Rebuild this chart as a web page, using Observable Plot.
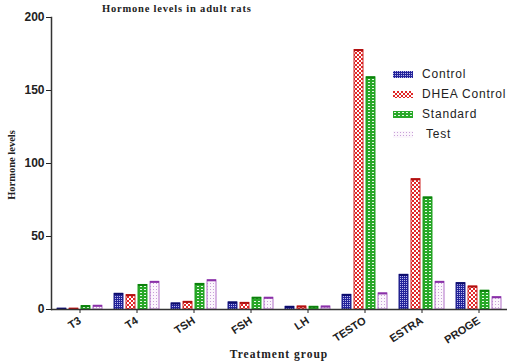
<!DOCTYPE html>
<html><head><meta charset="utf-8">
<script src="https://cdn.jsdelivr.net/npm/d3@7"></script>
<script src="https://cdn.jsdelivr.net/npm/@observablehq/plot@0.6"></script>
<style>
body{margin:0;background:#fff}
#wrap{position:relative;width:528px;height:362px}
#title{position:absolute;left:102px;top:3px;font:bold 10.5px "Liberation Serif";letter-spacing:0.8px;color:#222;white-space:nowrap}
#legend{position:absolute;left:393px;top:64px;font:12px "Liberation Sans";color:#222;letter-spacing:0.8px}
#legend .row{display:flex;align-items:center;height:20px}
#legend svg{margin-right:9px}
</style></head><body>
<div id="wrap"><div id="title">Hormone levels in adult rats</div><div id="legend"></div></div>
<script>
const categories = ["T3","T4","TSH","FSH","LH","TESTO","ESTRA","PROGE"];
const groups = ["Control","DHEA Control","Standard","Test"];
const control = [0.5,10.7,4.1,4.8,1.8,10,23.7,18];
const dheaControl = [0.5,9.8,5.2,4.5,2,177.7,89.2,15.7];
const standard = [2.3,16.8,17.5,8,1.8,159,76.7,12.8];
const test = [2.5,18.9,20,8,2,11,18.9,8.4];
const yTicks = [0,50,100,150,200];
const title = "Hormone levels in adult rats";
const yLabel = "Hormone levels";
const xLabel = "Treatment group";

const series = [control, dheaControl, standard, test];
const data = categories.flatMap((c,i)=>groups.map((g,j)=>({category:c, group:g, value:series[j][i]})));
const strokes = ["#20208a","#d02424","#20a020","#b070c8"];
const caps = ["#0c0c6c","#b01010","#0c800c","#8a30a8"];

const marks = [];
groups.forEach((g,j)=>{
  const sub = data.filter(d=>d.group===g);
  marks.push(Plot.barY(sub,{fx:"category", x:"group", y:"value", fill:`url(#p${j})`, stroke:strokes[j], strokeWidth:1}));
  marks.push(Plot.tickY(sub,{fx:"category", x:"group", y:"value", stroke:caps[j], strokeWidth:2}));
});

const chart = Plot.plot({
  width:528, height:362,
  marginLeft:49, marginRight:19, marginTop:17, marginBottom:53,
  style:{fontFamily:"Liberation Sans", fontSize:"11px", fontWeight:"bold", color:"#222", background:"white"},
  fx:{domain:categories, padding:0},
  x:{domain:groups, paddingInner:0.26, paddingOuter:0.49, axis:null},
  y:{domain:[0,200], axis:null},
  marks:[
    ...marks,
    Plot.axisY({ticks:yTicks, tickSize:5, label:null, tickPadding:2, facetAnchor:"left", fontWeight:"bold", fontSize:12, letterSpacing:"0.6px"}),
    Plot.axisFx({anchor:"bottom", tickRotate:-33, tickSize:4, label:null, tickPadding:6, fontSize:11, letterSpacing:"0.3px"}),
    Plot.ruleY([0],{stroke:"#333", strokeWidth:1.5}),
    Plot.frame({anchor:"left", facetAnchor:"left", stroke:"#333", strokeWidth:1.5}),
  ]
});
document.getElementById("wrap").prepend(chart);

const svg = d3.select(chart);
svg.append("text").attr("transform","translate(15,165) rotate(-90)").attr("text-anchor","middle")
  .attr("font-family","Liberation Serif").attr("font-weight","bold").attr("font-size",10.5).attr("fill","#222").text(yLabel);
svg.append("text").attr("x",279).attr("y",358).attr("text-anchor","middle")
  .attr("font-family","Liberation Serif").attr("font-weight","bold").attr("font-size",11.5).attr("letter-spacing",1).attr("fill","#222").text(xLabel);

const defs = svg.insert("defs",":first-child");
function pat(id,w,h,bg,rects){
  const p = defs.append("pattern").attr("id",id).attr("patternUnits","userSpaceOnUse").attr("width",w).attr("height",h);
  p.append("rect").attr("width",w).attr("height",h).attr("fill",bg);
  rects.forEach(r=>p.append("rect").attr("x",r[0]).attr("y",r[1]).attr("width",r[2]).attr("height",r[3]).attr("fill",r[4]));
}
pat("p0",2,2,"#24249a",[[0,0,1,1,"#b8b8ec"]]);
pat("p1",4,4,"#ffffff",[[0,0,2,2,"#e02828"],[2,2,2,2,"#e02828"]]);
pat("p2",4,3,"#28a828",[[1,1,2,1,"#e8f8e8"]]);
pat("p3",3,3,"#fbf6fc",[[1,1,1,1,"#c8a0d8"]]);

const leg = d3.select("#legend");
groups.forEach((g,j)=>{
  const row = leg.append("div").attr("class","row");
  const s = row.append("svg").attr("width",20).attr("height",7);
  s.append("rect").attr("width",20).attr("height",7).attr("fill",`url(#p${j})`);
  row.append("span").style("margin-left", j===3?"4px":"0").text(g);
});
</script>
</body></html>
